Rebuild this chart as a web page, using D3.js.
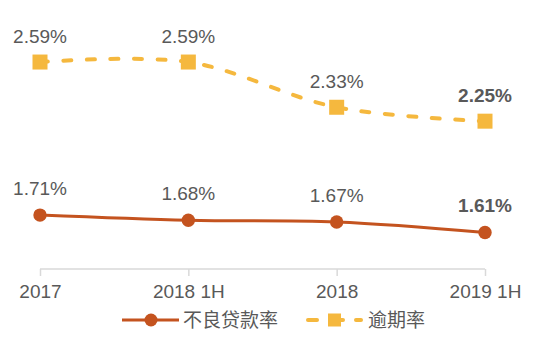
<!DOCTYPE html>
<html><head><meta charset="utf-8">
<script src="https://cdn.jsdelivr.net/npm/d3@7"></script>
<style>body{margin:0;background:#fff}svg{display:block}</style>
</head><body>
<svg id="c" width="550" height="358"></svg>
<script>
const categories = ["2017", "2018 1H", "2018", "2019 1H"];
const nplRate = [1.71, 1.68, 1.67, 1.61];      // 不良贷款率
const overdueRate = [2.59, 2.59, 2.33, 2.25];  // 逾期率
const seriesNames = ["不良贷款率", "逾期率"];
const boldLast = true;

const svg = d3.select("#c");
const x = d3.scalePoint().domain(categories).range([40, 485]);
const y = d3.scaleLinear().domain([1.4, 2.6]).range([269, 60.3]);
const textColor = "#595959";
const brown = "#C4531F", yellow = "#F5B83E";
const latin = "'Liberation Sans', Arial, sans-serif";
const fs = 19;

// x axis
const ax = svg.append("g").attr("transform", "translate(0,269)")
  .call(d3.axisBottom(x).tickSize(7).tickPadding(9));
ax.select(".domain").attr("stroke", "#D9D9D9").attr("stroke-width", 1.5)
  .attr("d", "M40,0H485");
ax.selectAll(".tick line").attr("stroke", "#D9D9D9").attr("stroke-width", 1.5);
ax.selectAll(".tick text").attr("fill", textColor).attr("font-size", fs)
  .attr("font-family", latin);

const curve = d3.curveCatmullRom.alpha(0.5);
const line = d3.line().x((d, i) => x(categories[i])).y(d => y(d)).curve(curve);

// overdue (dashed, squares)
svg.append("path").datum(overdueRate).attr("d", line).attr("fill", "none")
  .attr("stroke", yellow).attr("stroke-width", 4).attr("stroke-linecap", "round")
  .attr("stroke-dasharray", "8,15.5");
svg.selectAll(".sq").data(overdueRate).join("rect")
  .attr("x", (d, i) => x(categories[i]) - 7.5).attr("y", d => y(d) - 7.5)
  .attr("width", 15).attr("height", 15).attr("fill", yellow);

// npl (solid, circles)
svg.append("path").datum(nplRate).attr("d", line).attr("fill", "none")
  .attr("stroke", brown).attr("stroke-width", 3);
svg.selectAll(".ci").data(nplRate).join("circle")
  .attr("cx", (d, i) => x(categories[i])).attr("cy", d => y(d)).attr("r", 6.7)
  .attr("fill", brown);

// labels
function labels(data, dy) {
  svg.append("g").selectAll("text").data(data).join("text")
    .attr("x", (d, i) => x(categories[i]))
    .attr("y", d => y(d) - dy)
    .attr("text-anchor", "middle")
    .attr("font-family", latin).attr("font-size", fs)
    .attr("font-weight", (d, i) => boldLast && i === data.length - 1 ? "bold" : "normal")
    .attr("fill", textColor)
    .text(d => d.toFixed(2) + "%");
}
labels(overdueRate, 19.5);
labels(nplRate, 20);

// legend
const lg = svg.append("g").attr("transform", "translate(0,320)");
lg.append("line").attr("x1", 122).attr("x2", 179).attr("y1", 0).attr("y2", 0)
  .attr("stroke", brown).attr("stroke-width", 3);
lg.append("circle").attr("cx", 151).attr("cy", 0).attr("r", 6.5).attr("fill", brown);
lg.append("text").attr("x", 183).attr("y", 0).attr("dy", "0.35em")
  .attr("font-family", "'Noto Sans CJK SC', sans-serif").attr("font-size", 19)
  .attr("fill", textColor).text(seriesNames[0]);
lg.append("line").attr("x1", 308).attr("x2", 317).attr("y1", 0).attr("y2", 0)
  .attr("stroke", yellow).attr("stroke-width", 4).attr("stroke-linecap", "round");
lg.append("line").attr("x1", 336).attr("x2", 343).attr("y1", 0).attr("y2", 0)
  .attr("stroke", yellow).attr("stroke-width", 4).attr("stroke-linecap", "round");
lg.append("rect").attr("x", 328).attr("y", -6.5).attr("width", 13).attr("height", 13)
  .attr("fill", yellow);
lg.append("line").attr("x1", 356).attr("x2", 361).attr("y1", 0).attr("y2", 0)
  .attr("stroke", yellow).attr("stroke-width", 4).attr("stroke-linecap", "round");
lg.append("text").attr("x", 368).attr("y", 0).attr("dy", "0.35em")
  .attr("font-family", "'Noto Sans CJK SC', sans-serif").attr("font-size", 19)
  .attr("fill", textColor).text(seriesNames[1]);
</script>
</body></html>
